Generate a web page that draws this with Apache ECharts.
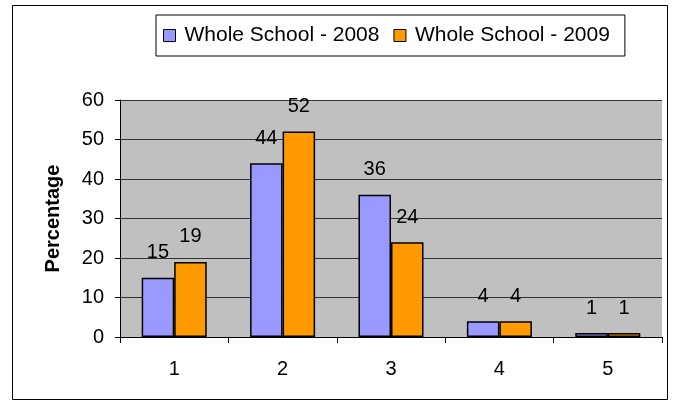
<!DOCTYPE html>
<html>
<head>
<meta charset="utf-8">
<script src="https://cdn.jsdelivr.net/npm/echarts@6/dist/echarts.min.js"></script>
<style>
    html, body { margin: 0; padding: 0; background: #fff; }
    #main { width: 686px; height: 406px; }
</style>
</head>
<body>
<div id="main"></div>
<script>
var categories = ['1', '2', '3', '4', '5'];
var school2008 = [15, 44, 36, 4, 1];
var school2009 = [19, 52, 24, 4, 1];
var yTicks = { min: 0, max: 60, interval: 10 };

var font = 'Liberation Sans, Arial, sans-serif';
var myChart = echarts.init(document.getElementById('main'));

var labelStyle = {
    show: true,
    position: 'top',
    distance: 15,
    color: '#000',
    fontFamily: font,
    fontSize: 20
};

var option = {
    animation: false,
    graphic: [{
        type: 'rect',
        shape: { x: 12.5, y: 5.5, width: 655, height: 394 },
        style: { fill: 'none', stroke: '#000', lineWidth: 1 }
    }],
    legend: {
        left: 156,
        top: 15,
        data: ['Whole School - 2008', 'Whole School - 2009'],
        icon: 'rect',
        itemWidth: 12,
        itemHeight: 12,
        itemGap: 14,
        padding: [10, 15, 10, 7],
        borderColor: '#000',
        borderWidth: 1,
        itemStyle: { borderColor: '#000', borderWidth: 1 },
        textStyle: { color: '#000', fontFamily: font, fontSize: 21, padding: [0, 0, 0, 4] }
    },
    grid: { left: 120, right: 24, top: 100, bottom: 69, containLabel: false,
        show: true, backgroundColor: '#C0C0C0', borderWidth: 0 },
    xAxis: {
        type: 'category',
        data: categories,
        axisLine: { lineStyle: { color: '#000', width: 1 } },
        axisTick: { show: true, length: 6, lineStyle: { color: '#000' } },
        axisLabel: { color: '#000', fontFamily: font, fontSize: 20, margin: 22 }
    },
    yAxis: {
        type: 'value',
        min: yTicks.min,
        max: yTicks.max,
        interval: yTicks.interval,
        name: 'Percentage',
        nameLocation: 'middle',
        nameGap: 57,
        nameTextStyle: { color: '#000', fontFamily: font, fontSize: 20, fontWeight: 'bold' },
        axisLine: { show: true, lineStyle: { color: '#000', width: 1 } },
        axisTick: { show: true, length: 5, lineStyle: { color: '#000' } },
        axisLabel: { color: '#000', fontFamily: font, fontSize: 20, margin: 16 },
        splitLine: { lineStyle: { color: '#333', width: 1 } }
    },
    series: [
        {
            name: 'Whole School - 2008',
            type: 'bar',
            data: school2008,
            barGap: '0%',
            barCategoryGap: '40%',
            itemStyle: { color: '#9999FF', borderColor: '#000', borderWidth: 1.5 },
            label: labelStyle
        },
        {
            name: 'Whole School - 2009',
            type: 'bar',
            data: school2009,
            barGap: '0%',
            barCategoryGap: '40%',
            itemStyle: { color: '#FF9900', borderColor: '#000', borderWidth: 1.5 },
            label: labelStyle
        }
    ]
};
myChart.setOption(option);
</script>
</body>
</html>
